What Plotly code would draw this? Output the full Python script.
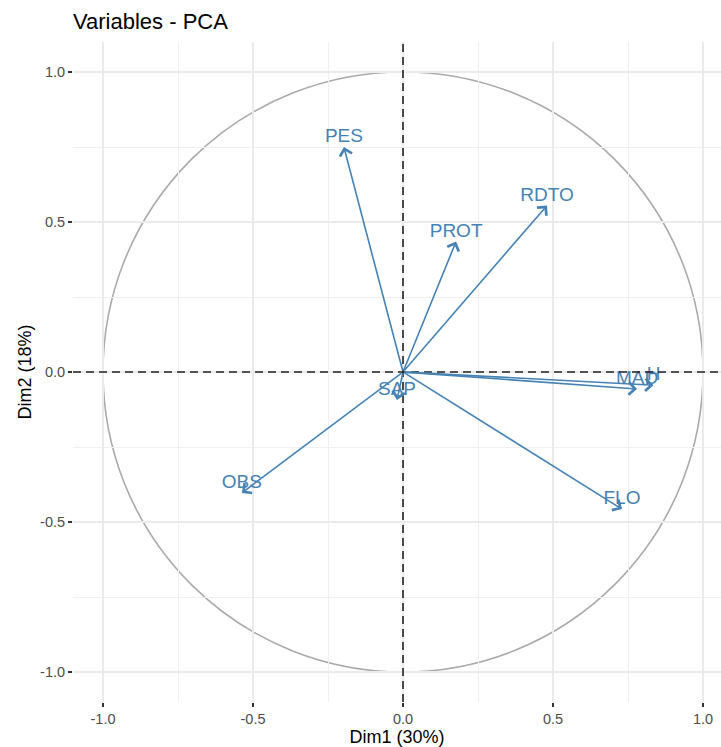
import plotly.graph_objects as go

variables = ["PES", "PROT", "RDTO", "MAD", "H", "FLO", "OBS", "SAP"]
dim1 = [-0.197, 0.177, 0.48, 0.78, 0.835, 0.73, -0.537, -0.02]
dim2 = [0.75, 0.435, 0.555, -0.057, -0.044, -0.457, -0.403, -0.093]

tick_vals = [-1.0, -0.5, 0.0, 0.5, 1.0]
tick_text = ["-1.0", "-0.5", "0.0", "0.5", "1.0"]

STEEL = "#4682B4"
FONT = "Liberation Sans, Arial, Helvetica, sans-serif"

fig = go.Figure()

# labels
fig.add_trace(go.Scatter(
    x=dim1, y=dim2, mode="text", text=variables,
    textposition="top center",
    textfont=dict(family=FONT, size=19, color=STEEL),
    hoverinfo="skip", showlegend=False,
))

# arrows from origin
for name, x, y in zip(variables, dim1, dim2):
    fig.add_annotation(
        x=x, y=y, ax=0, ay=0, xref="x", yref="y", axref="x", ayref="y",
        showarrow=True, arrowhead=4, arrowsize=1.5, arrowwidth=1.6,
        arrowcolor=STEEL, text="", standoff=0, startstandoff=0,
    )

shapes = [
    dict(type="circle", xref="x", yref="y", x0=-1, y0=-1, x1=1, y1=1,
         line=dict(color="#AAAAAA", width=1.6), layer="below"),
    dict(type="line", xref="paper", yref="y", x0=0, x1=1, y0=0, y1=0,
         line=dict(color="#222222", width=1.6, dash="8px,5px"), layer="above"),
    dict(type="line", xref="x", yref="paper", x0=0, x1=0, y0=0, y1=1,
         line=dict(color="#222222", width=1.6, dash="8px,5px"), layer="above"),
]

axis_common = dict(
    tickvals=tick_vals, ticktext=tick_text,
    showgrid=True, gridcolor="#EBEBEB", gridwidth=1.6,
    zeroline=False, showline=False, automargin=False,
    ticks="outside", ticklen=4, tickwidth=1.5, tickcolor="#333333",
    tickfont=dict(family=FONT, size=14.5, color="#4D4D4D"),
    minor=dict(dtick=0.25, showgrid=True, gridcolor="#F0F0F0", gridwidth=1),
)

fig.update_layout(
    width=721, height=747,
    margin=dict(l=73, r=0, t=42, b=45, autoexpand=False),
    paper_bgcolor="white", plot_bgcolor="white",
    title=dict(text="Variables - PCA", x=73 / 721, xanchor="left",
               y=1 - 21 / 747, yanchor="middle",
               font=dict(family=FONT, size=22, color="black")),
    xaxis=dict(range=[-1.1, 1.06], **axis_common,
               title=dict(text="Dim1 (30%)", standoff=2,
                          font=dict(family=FONT, size=18, color="black"))),
    yaxis=dict(range=[-1.1, 1.1], **axis_common,
               title=dict(text="Dim2 (18%)", standoff=3,
                          font=dict(family=FONT, size=18, color="black"))),
    shapes=shapes,
    showlegend=False,
)

fig.write_html(
    "out.html",
    config={"displayModeBar": False},
    post_script="document.body.style.margin='0';document.body.style.overflow='hidden';",
)
